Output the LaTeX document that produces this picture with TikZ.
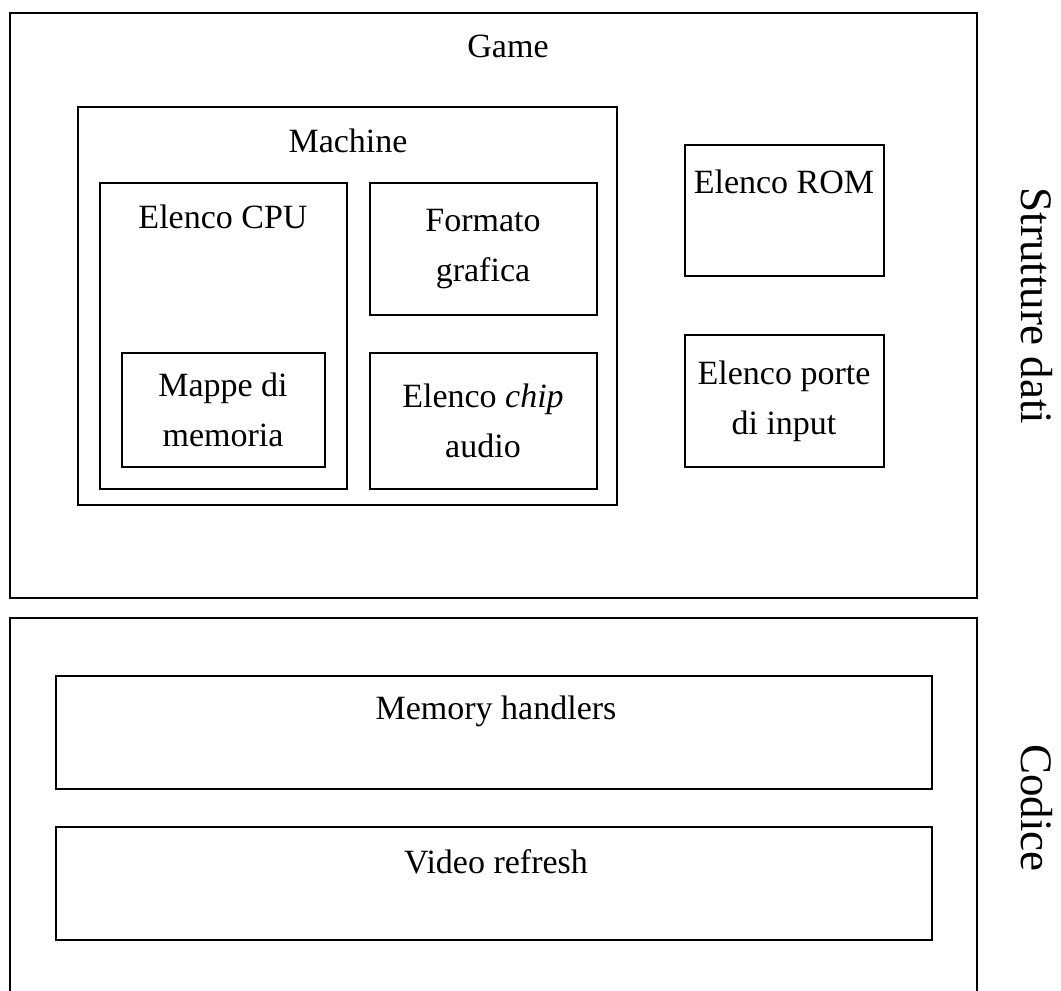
\documentclass[tikz,border=0pt]{standalone}
\usepackage{fontspec}
\setmainfont{Liberation Serif}
\begin{document}
\begin{tikzpicture}[x=1pt,y=-1pt,
  box/.style={draw=black,line width=1.6pt},
  lbl/.style={font=\fontsize{34}{50}\selectfont,align=center,inner sep=0pt},
  side/.style={font=\fontsize{45}{50}\selectfont,inner sep=0pt,rotate=-90}]
\useasboundingbox (0,0) rectangle (1061,991);
\fill[white] (0,0) rectangle (1061,991);
% outer boxes
\draw[box] (10,13) rectangle (977,598);
\draw[box] (10,618) rectangle (977,1010);
% machine
\draw[box] (78,107) rectangle (617,505);
\draw[box] (100,183) rectangle (347,489);
\draw[box] (122,353) rectangle (325,467);
\draw[box] (370,183) rectangle (597,315);
\draw[box] (370,353) rectangle (597,489);
% right
\draw[box] (685,145) rectangle (884,276);
\draw[box] (685,335) rectangle (884,467);
% code
\draw[box] (56,676) rectangle (932,789);
\draw[box] (56,827) rectangle (932,940);
% labels
\node[lbl] (game) at (508,46) {Game};
\node[lbl] (machine) at (348,141) {Machine};
\node[lbl] (cpu) at (223,217) {Elenco CPU};
\node[lbl] (mappe) at (223,410) {Mappe di\\memoria};
\node[lbl] (grafica) at (483,249) {Formato\\grafica};
\node[lbl] (chip) at (483,421) {Elenco \textit{chip}\\audio};
\node[lbl] (rom) at (784,182) {Elenco ROM};
\node[lbl] (porte) at (784,401) {Elenco porte\\di input};
\node[lbl] (mem) at (496,711) {Memory handlers};
\node[lbl] (video) at (496,862) {Video refresh};
\node[side] (strutture) at (1037,306) {Strutture dati};
\node[side] (codice) at (1037,808) {Codice};
\end{tikzpicture}
\end{document}
